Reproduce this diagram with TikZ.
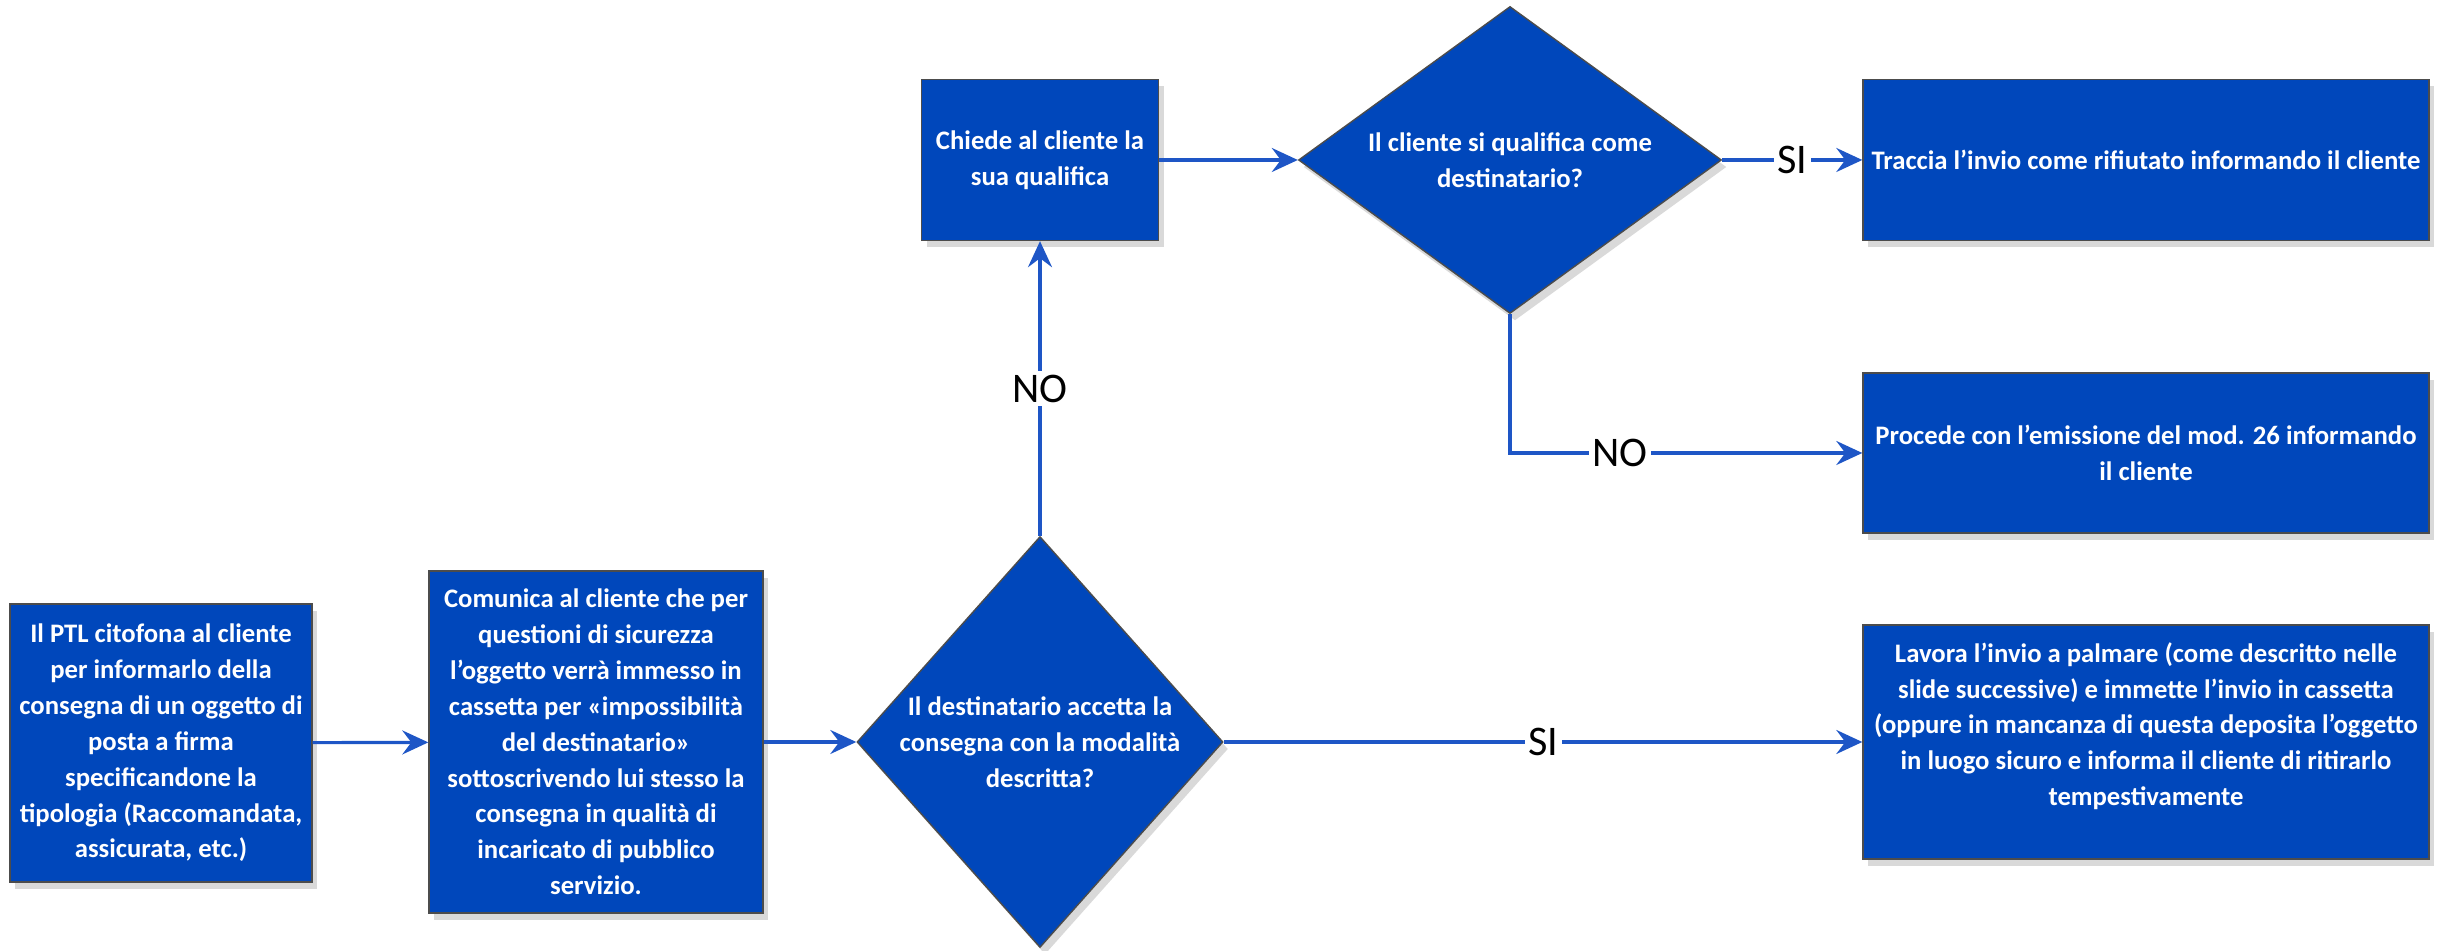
\documentclass[tikz,border=0pt]{standalone}
\usepackage{fontspec}
\setmainfont{Carlito}
\usetikzlibrary{shapes.geometric,arrows.meta,shadows}
\definecolor{boxblue}{RGB}{0,71,187}
\definecolor{lineblue}{RGB}{30,86,198}

\begin{document}
\begin{tikzpicture}[
  stepbox/.style={rectangle, fill=boxblue, draw=black!70, line width=0.4pt,
    text=white, font=\bfseries\fontsize{7.6}{10.2}\selectfont, align=center,
    inner sep=1pt, drop shadow={shadow xshift=0.5mm, shadow yshift=-0.7mm, fill=black!15, opacity=1}},
  decision/.style={stepbox, diamond, inner sep=0pt},
  flow/.style={draw=lineblue, line width=0.9pt, -{Stealth[length=2.6mm,width=2.4mm,inset=0.9mm]}},
  answer/.style={fill=white, text=black, font=\fontsize{12}{14}\selectfont, inner sep=1pt}
]
\useasboundingbox (0,0) rectangle (24.4,9.5);

\node[stepbox, minimum width=3.02cm, minimum height=2.78cm] (ptl) at (1.61,2.07)
  {Il PTL citofona al cliente\\ per informarlo della\\ consegna di un oggetto di\\ posta a firma\\ specificandone la\\ tipologia (Raccomandata,\\ assicurata, etc.)};
\node[stepbox, minimum width=3.34cm, minimum height=3.42cm] (comunica) at (5.96,2.08)
  {Comunica al cliente che per\\ questioni di sicurezza\\ l’oggetto verrà immesso in\\ cassetta per «impossibilità\\ del destinatario»\\ sottoscrivendo lui stesso la\\ consegna in qualità di\\ incaricato di pubblico\\ servizio.};
\node[decision, shape aspect=0.89, minimum width=3.66cm, minimum height=4.11cm] (accetta) at (10.4,2.08)
  {Il destinatario accetta la\\ consegna con la modalità\\ descritta?};
\node[stepbox, minimum width=2.37cm, minimum height=1.61cm] (chiede) at (10.4,7.9)
  {Chiede al cliente la\\ sua qualifica};
\node[decision, shape aspect=1.38, minimum width=4.23cm, minimum height=3.07cm] (qualifica) at (15.1,7.9)
  {Il cliente si qualifica come\\ destinatario?};
\node[stepbox, minimum width=5.66cm, minimum height=1.61cm] (traccia) at (21.46,7.9)
  {Traccia l’invio come rifiutato informando il cliente};
\node[stepbox, minimum width=5.66cm, minimum height=1.6cm] (procede) at (21.46,4.97)
  {Procede con l’emissione del mod. 26 informando\\ il cliente};
\node[stepbox, minimum width=5.66cm, minimum height=2.34cm] (lavora) at (21.46,2.08)
  {Lavora l’invio a palmare (come descritto nelle\\ slide successive) e immette l’invio in cassetta\\ (oppure in mancanza di questa deposita l’oggetto\\ in luogo sicuro e informa il cliente di ritirarlo\\ tempestivamente\\ \mbox{}};

\draw[flow] (ptl) -- (comunica);
\draw[flow] (comunica) -- (accetta);
\draw[flow] (accetta) -- node[answer] {NO} (chiede);
\draw[flow] (chiede) -- (qualifica);
\draw[flow] (qualifica) -- node[answer] {SI} (traccia);
\draw[flow] (qualifica.south) |- node[answer, pos=0.656] {NO} (procede.west);
\draw[flow] (accetta) -- node[answer] {SI} (lavora);
\end{tikzpicture}
\end{document}
